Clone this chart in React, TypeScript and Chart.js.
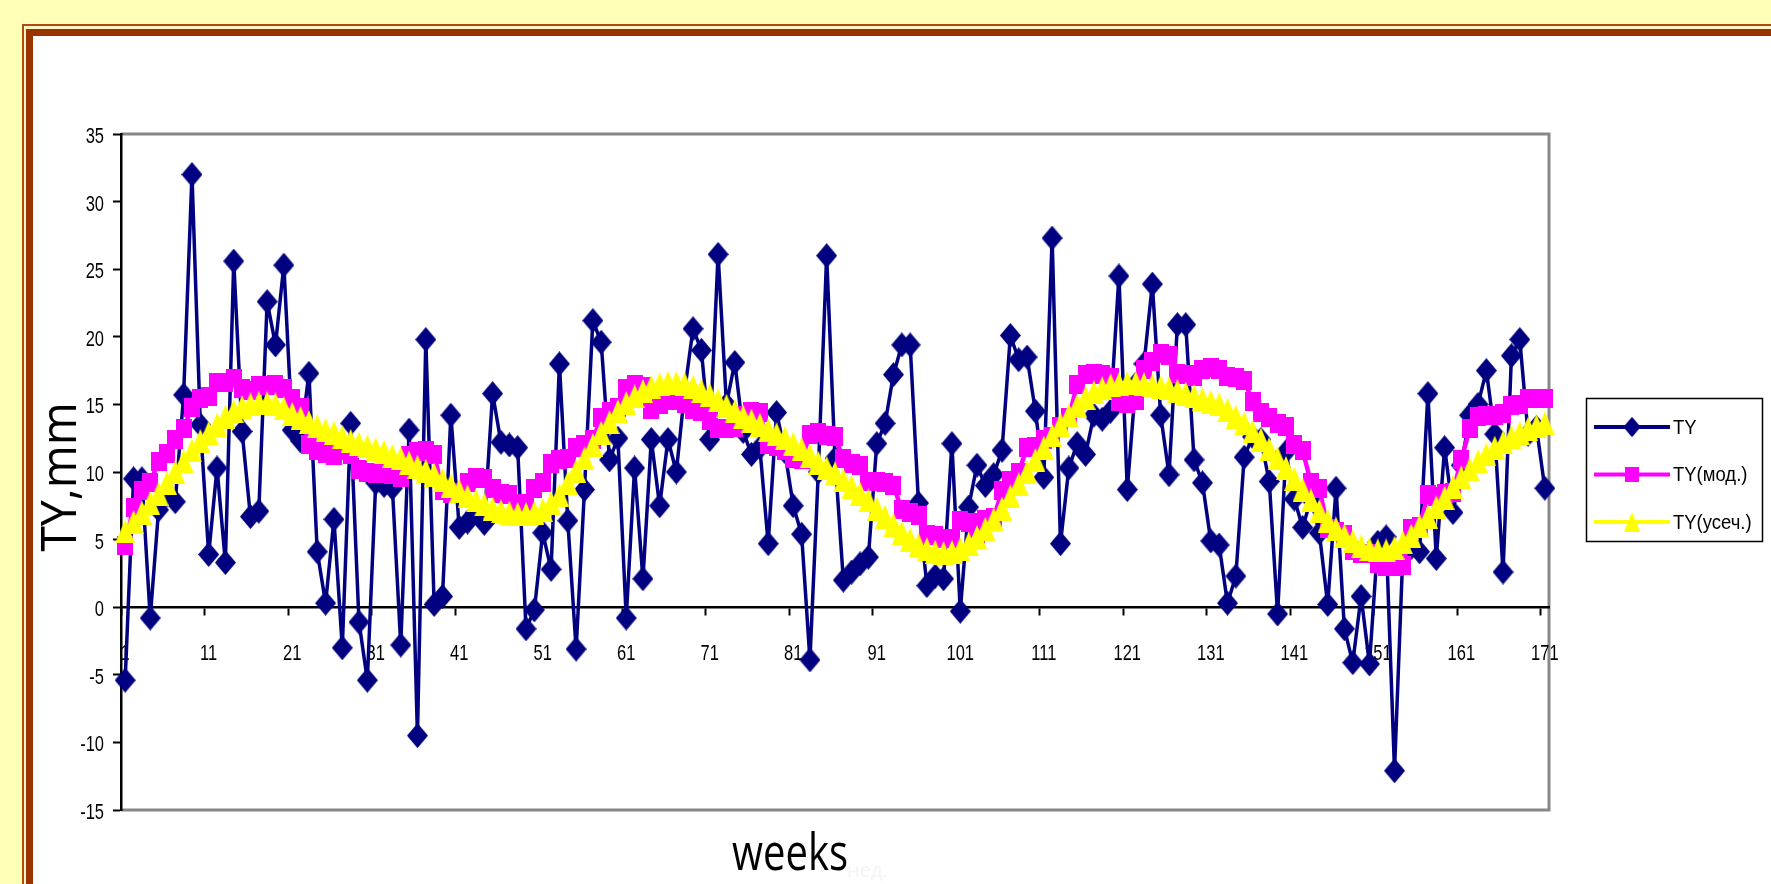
import React, { useEffect, useRef } from 'react';
import { Chart, registerables } from 'chart.js';

Chart.register(...registerables);

// ---------- data ----------
const weekLabels: string[] = Array.from({ length: 171 }, (_, i) => String(i + 1));
const xTickLabels = ['1', '11', '21', '31', '41', '51', '61', '71', '81', '91', '101', '111', '121', '131', '141', '151', '161', '171'];
const yTickValues = [35, 30, 25, 20, 15, 10, 5, 0, -5, -10, -15];

const seriesNames = ['TY', 'TY(мод.)', 'TY(усеч.)'];
const xTitle = 'weeks';
const xTitleFaint = 'нед.';
const yTitle = 'TY,mm';

const tyValues = [
  -5.4, 9.5, 9.5, -0.8, 7.2, 8.3, 7.8, 15.7, 32.0, 13.5,
  3.9, 10.3, 3.3, 25.6, 13.0, 6.7, 7.1, 22.6, 19.4, 25.3,
  13.1, 12.3, 17.3, 4.1, 0.3, 6.5, -3.0, 13.6, -1.1, -5.4,
  9.2, 9.0, 8.8, -2.8, 13.1, -9.5, 19.8, 0.2, 0.8, 14.2,
  5.9, 6.3, 7.0, 6.2, 15.8, 12.2, 12.0, 11.8, -1.6, -0.2,
  5.5, 2.8, 18.0, 6.4, -3.1, 8.7, 21.2, 19.6, 10.9, 12.5,
  -0.8, 10.3, 2.1, 12.4, 7.5, 12.4, 10.0, 16.0, 20.6, 19.0,
  12.4, 26.1, 15.0, 18.1, 13.0, 11.3, 11.8, 4.7, 14.4, 11.5,
  7.5, 5.4, -3.9, 10.0, 26.0, 11.0, 2.0, 2.6, 3.2, 3.7,
  12.1, 13.6, 17.2, 19.4, 19.4, 7.7, 1.6, 2.3, 2.1, 12.1,
  -0.3, 7.4, 10.5, 9.0, 9.8, 11.6, 20.1, 18.3, 18.5, 14.5,
  9.6, 27.3, 4.7, 10.3, 12.1, 11.3, 14.2, 13.9, 14.5, 24.5,
  8.7, 16.5, 18.0, 23.9, 14.2, 9.8, 20.9, 20.9, 10.9, 9.2,
  4.9, 4.6, 0.3, 2.3, 11.1, 12.6, 12.4, 9.3, -0.5, 11.5,
  8.0, 5.9, 8.0, 5.5, 0.2, 8.8, -1.6, -4.1, 0.8, -4.2,
  4.8, 5.2, -12.1, 4.0, 4.4, 4.1, 15.8, 3.6, 11.8, 7.0,
  10.5, 14.2, 15.0, 17.5, 12.8, 2.6, 18.6, 19.8, 12.8, 13.3,
  8.8,
];

const tyModValues = [
  4.6, 7.4, 8.6, 9.2, 10.8, 11.4, 12.4, 13.2, 14.8, 15.4,
  15.6, 16.6, 16.6, 16.9, 16.2, 16.0, 16.4, 16.4, 16.5, 16.2,
  15.4, 14.8, 12.0, 11.6, 11.4, 11.2, 11.6, 11.3, 10.2, 10.0,
  9.9, 9.9, 9.8, 9.6, 11.2, 11.5, 11.6, 11.3, 8.6, 8.4,
  8.5, 9.2, 9.6, 9.5, 8.8, 8.4, 8.3, 7.7, 7.6, 8.8,
  9.2, 10.6, 10.9, 11.0, 11.8, 12.0, 12.4, 14.0, 14.5, 14.8,
  16.2, 16.5, 16.3, 14.6, 15.0, 15.3, 15.3, 15.1, 14.6, 14.5,
  13.8, 13.2, 13.2, 13.3, 14.2, 14.5, 14.4, 12.0, 11.9, 11.6,
  11.0, 10.9, 12.8, 12.9, 12.7, 12.6, 11.0, 10.6, 10.5, 9.3,
  9.3, 9.2, 9.0, 7.2, 7.0, 6.8, 5.4, 5.3, 5.1, 5.1,
  6.4, 6.3, 5.4, 6.5, 6.6, 8.6, 9.4, 10.0, 11.8, 11.9,
  12.4, 12.6, 13.4, 14.0, 16.5, 17.2, 17.3, 17.2, 17.0, 15.2,
  15.1, 15.3, 17.6, 18.2, 18.8, 18.6, 17.3, 17.2, 17.1, 17.6,
  17.7, 17.6, 17.1, 17.0, 16.8, 15.2, 14.4, 14.0, 13.6, 13.4,
  12.0, 11.6, 9.2, 8.8, 5.8, 5.6, 5.4, 4.2, 4.0, 4.0,
  3.2, 3.0, 3.0, 3.1, 5.8, 6.0, 8.3, 8.2, 8.4, 8.5,
  10.9, 13.2, 14.1, 14.2, 14.2, 14.3, 14.9, 15.0, 15.4, 15.4,
  15.4,
];

const tyTruncValues = [
  5.6, 6.3, 7.0, 7.7, 8.4, 9.2, 10.0, 10.8, 11.6, 12.3,
  12.9, 13.5, 14.1, 14.5, 14.8, 15.0, 15.1, 15.1, 15.0, 14.7,
  14.3, 14.0, 13.7, 13.4, 13.1, 12.9, 12.6, 12.3, 12.1, 11.9,
  11.7, 11.5, 11.2, 11.0, 10.7, 10.4, 10.1, 9.8, 9.4, 9.0,
  8.6, 8.2, 7.9, 7.6, 7.3, 7.1, 7.0, 6.9, 6.9, 7.0,
  7.2, 7.7, 8.3, 9.2, 10.1, 11.0, 12.0, 12.9, 13.7, 14.5,
  15.1, 15.6, 16.0, 16.3, 16.5, 16.6, 16.6, 16.5, 16.3, 16.0,
  15.7, 15.3, 14.9, 14.5, 14.1, 13.8, 13.5, 13.1, 12.8, 12.5,
  12.1, 11.7, 11.2, 10.7, 10.3, 9.9, 9.4, 8.9, 8.4, 7.9,
  7.3, 6.7, 6.1, 5.5, 5.0, 4.6, 4.3, 4.1, 4.0, 4.1,
  4.3, 4.7, 5.2, 5.8, 6.5, 7.3, 8.2, 9.1, 10.0, 10.9,
  11.8, 12.7, 13.5, 14.2, 14.9, 15.5, 15.9, 16.2, 16.4, 16.5,
  16.6, 16.6, 16.5, 16.4, 16.3, 16.2, 16.0, 15.8, 15.6, 15.4,
  15.2, 15.0, 14.6, 14.1, 13.6, 13.0, 12.4, 11.7, 11.0, 10.3,
  9.5, 8.7, 7.9, 7.1, 6.4, 5.8, 5.3, 4.9, 4.5, 4.3,
  4.2, 4.2, 4.4, 4.8, 5.3, 6.0, 6.7, 7.4, 8.1, 8.9,
  9.6, 10.2, 10.8, 11.3, 11.8, 12.2, 12.6, 12.9, 13.2, 13.4,
  13.6,
];

// ---------- styles ----------
const NAVY = '#000080';
const MAGENTA = '#FF00FF';
const YELLOW = '#FFFF00';
const TICK_FONT = '22px "Liberation Sans", Arial, sans-serif';

function makeMarker(kind: string, color: string): HTMLCanvasElement {
  const c = document.createElement('canvas');
  let w = 16;
  let h = 19;
  if (kind === 'diamond') { w = 21; h = 25; }
  if (kind === 'triangle') { w = 20; h = 24; }
  c.width = w;
  c.height = h;
  const g = c.getContext('2d') as CanvasRenderingContext2D;
  g.fillStyle = color;
  g.beginPath();
  if (kind === 'diamond') {
    g.moveTo(w / 2, 0); g.lineTo(w, h / 2); g.lineTo(w / 2, h); g.lineTo(0, h / 2);
  } else if (kind === 'triangle') {
    g.moveTo(w / 2, 0); g.lineTo(w, h); g.lineTo(0, h);
  } else {
    g.rect(0, 0, w, h);
  }
  g.closePath();
  g.fill();
  return c;
}

function drawText(ctx: CanvasRenderingContext2D, text: string, x: number, y: number, o: any) {
  ctx.save();
  ctx.translate(x, y);
  if (o.rotate) ctx.rotate(o.rotate);
  ctx.scale(o.sx ?? 1, o.sy ?? 1);
  ctx.font = o.font;
  ctx.fillStyle = o.color ?? '#000';
  ctx.textAlign = o.align ?? 'left';
  ctx.textBaseline = o.baseline ?? 'alphabetic';
  ctx.fillText(text, 0, 0);
  ctx.restore();
}

export default function App() {
  const canvasRef = useRef<HTMLCanvasElement | null>(null);

  useEffect(() => {
    const canvas = canvasRef.current;
    if (!canvas) return;
    const markers = [makeMarker('diamond', NAVY), makeMarker('square', MAGENTA), makeMarker('triangle', YELLOW)];
    const colors = [NAVY, MAGENTA, YELLOW];

    const decor = {
      id: 'decor',
      beforeDraw(chart: any) {
        const { ctx, chartArea: a } = chart;
        ctx.save();
        ctx.strokeStyle = '#888888';
        ctx.lineWidth = 3;
        ctx.beginPath();
        ctx.moveTo(a.left, a.top);
        ctx.lineTo(a.right, a.top);
        ctx.lineTo(a.right, a.bottom);
        ctx.lineTo(a.left, a.bottom);
        ctx.stroke();
        ctx.restore();
      },
      beforeDatasetsDraw(chart: any) {
        const { ctx, scales } = chart;
        const ys = scales.y;
        const xs = scales.x;
        yTickValues.forEach((v) => {
          drawText(ctx, String(v), 104, ys.getPixelForValue(v) + 3, { font: TICK_FONT, sx: 0.75, align: 'right', baseline: 'middle' });
        });
        const y0 = ys.getPixelForValue(0);
        xTickLabels.forEach((lab) => {
          const idx = weekLabels.indexOf(lab);
          drawText(ctx, lab, xs.getPixelForValue(idx), y0 + 47, { font: TICK_FONT, sx: 0.75, align: 'center', baseline: 'middle' });
        });
      },
      afterDraw(chart: any) {
        const { ctx } = chart;
        // axis titles
        drawText(ctx, xTitle, 732, 870, { font: '52px "Open Sans", sans-serif', sx: 0.77 });
        drawText(ctx, xTitleFaint, 847, 877, { font: '20px "Open Sans", sans-serif', color: '#f4f4f4' });
        drawText(ctx, yTitle, 76, 477, { font: '50px "Open Sans", sans-serif', sx: 0.93, rotate: -Math.PI / 2, align: 'center' });
        // legend
        ctx.save();
        ctx.strokeStyle = '#000';
        ctx.lineWidth = 1.5;
        ctx.strokeRect(1586.5, 398.5, 176, 143);
        const rowsY = [427, 474.5, 522];
        seriesNames.forEach((name, k) => {
          const y = rowsY[k];
          ctx.strokeStyle = colors[k];
          ctx.lineWidth = 4;
          ctx.beginPath();
          ctx.moveTo(1594, y);
          ctx.lineTo(1670, y);
          ctx.stroke();
          const m = markers[k];
          const mw = m.width * 0.82;
          const mh = m.height * 0.82;
          ctx.drawImage(m, 1632 - mw / 2, y - mh / 2, mw, mh);
          drawText(ctx, name, 1673, y + 1, { font: '21px "Liberation Sans", Arial, sans-serif', sx: 0.88, baseline: 'middle' });
        });
        ctx.restore();
      },
    };

    const chart = new Chart(canvas, {
      type: 'line',
      data: {
        labels: weekLabels,
        datasets: [
          { label: seriesNames[0], data: tyValues, borderColor: NAVY, backgroundColor: NAVY, borderWidth: 3.5, pointStyle: markers[0] as any, order: 2, clip: false as any, borderJoinStyle: 'round' },
          { label: seriesNames[1], data: tyModValues, borderColor: MAGENTA, backgroundColor: MAGENTA, borderWidth: 4.5, pointStyle: markers[1] as any, order: 1, clip: false as any, borderJoinStyle: 'round' },
          { label: seriesNames[2], data: tyTruncValues, borderColor: YELLOW, backgroundColor: YELLOW, borderWidth: 4.5, pointStyle: markers[2] as any, order: 0, clip: false as any, borderJoinStyle: 'round' },
        ],
      },
      options: {
        responsive: false,
        animation: false,
        events: [],
        layout: { autoPadding: false, padding: { left: 80, top: 134, right: 222, bottom: 74 } },
        plugins: { legend: { display: false }, tooltip: { enabled: false }, title: { display: false } },
        scales: {
          x: {
            type: 'category',
            offset: true,
            position: { y: 0 } as any,
            grid: {
              display: true,
              drawOnChartArea: false,
              drawTicks: true,
              offset: true,
              tickLength: 7,
              tickWidth: 2,
              tickColor: (c: any) => (xTickLabels.includes(weekLabels[c.index]) ? '#000' : 'rgba(0,0,0,0)'),
            },
            border: { display: true, color: '#000', width: 2.5 },
            ticks: { display: false, autoSkip: false, maxRotation: 0, minRotation: 0 },
          },
          y: {
            type: 'linear',
            min: -15,
            max: 35,
            ticks: { display: false, stepSize: 5 },
            grid: { drawOnChartArea: false, drawTicks: true, tickLength: 8, tickWidth: 2, tickColor: '#000' },
            border: { display: true, color: '#000', width: 2.5 },
            afterFit: (s: any) => { s.width = 41; },
          },
        },
      },
      plugins: [decor],
    } as any);
    return () => chart.destroy();
  }, []);

  return (
    <div style={{ position: 'fixed', left: 0, top: 0, width: 1771, height: 884, background: '#FFFFB8', overflow: 'hidden' }}>
      <div style={{ position: 'absolute', left: 22, top: 24, right: -20, bottom: -20, borderTop: '2px solid #B24B12', borderLeft: '2px solid #B24B12', background: '#FFF2C4' }} />
      <div style={{ position: 'absolute', left: 26, top: 29, right: -20, bottom: -20, borderTop: '7px solid #993300', borderLeft: '7px solid #993300', background: '#FFFFFF' }} />
      <canvas ref={canvasRef} width={1771} height={884} style={{ position: 'absolute', left: 0, top: 0, width: 1771, height: 884 }} />
    </div>
  );
}
